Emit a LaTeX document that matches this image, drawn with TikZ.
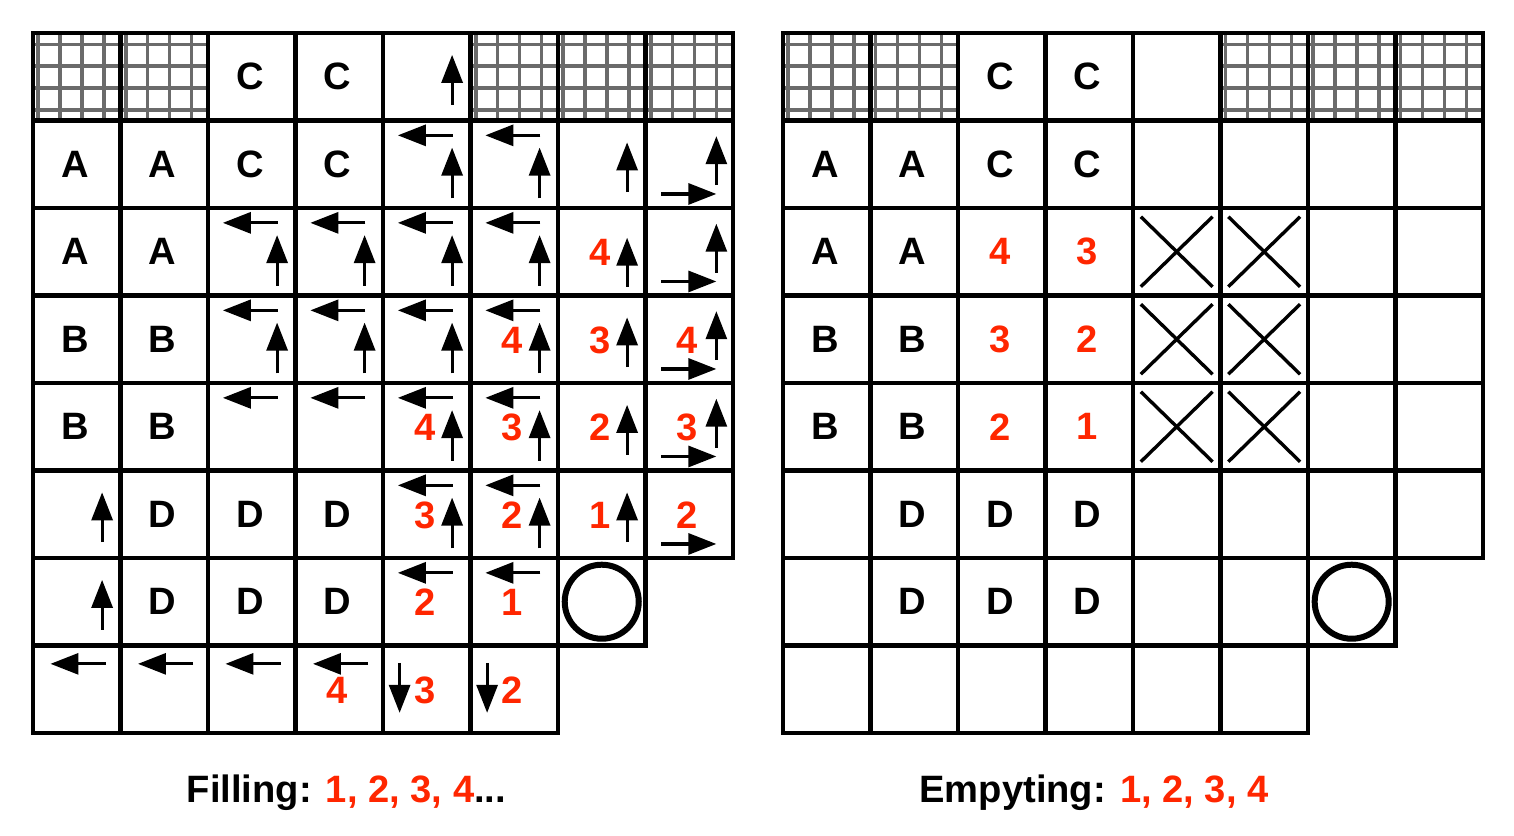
\documentclass[tikz,border=0pt]{standalone}
\usepackage{fontspec}
\setmainfont{Liberation Sans}
\usetikzlibrary{arrows.meta}
\definecolor{numred}{RGB}{255,38,0}
\tikzset{
  >={Triangle[length=0.32cm,width=0.24cm]},
  cellbox/.style={draw=black, line width=1.4pt},
  hatch/.style={draw=black!58, line width=1.15pt},
  flow/.style={->, line width=1pt},
  celltxt/.style={
    font=\fontsize{12.4}{15}\selectfont\bfseries,
    inner sep=0pt},
  cellnum/.style={celltxt, text=numred},
  cross/.style={draw, line width=1.1pt},
  drain/.style={draw, line width=1.95pt},
  caption/.style={celltxt, anchor=base},
}

\begin{document}
\begin{tikzpicture}
  \useasboundingbox (-0.377,-1.177) rectangle (16.926,8.377);

  % both grids: filling (L) and emptying (R)
  \foreach \g/\dx in {L/0,R/8.571} {
    \begin{scope}[xshift=\dx cm]
      % hatched cells of the top row
      \foreach \c in {0,1,5,6,7}
        \foreach \k in {0.06,0.31,0.56,0.81} {
          \draw[hatch] (\c+\k,7) -- (\c+\k,8);
          \draw[hatch] (\c,7.06+\k) -- (\c+1,7.06+\k);
        }
      % cells
      \foreach \r/\n in {0/7,1/7,2/7,3/7,4/7,5/7,6/6,7/5}
        \foreach \c in {0,...,\n}
          \draw[cellbox] (\c,7-\r) rectangle ++(1,1);
      % letters
      \foreach \c/\r/\t in {2/0/C,3/0/C,0/1/A,1/1/A,2/1/C,3/1/C,0/2/A,1/2/A,
          0/3/B,1/3/B,0/4/B,1/4/B,1/5/D,2/5/D,3/5/D,1/6/D,2/6/D,3/6/D}
        \node[celltxt] (\g-\c-\r) at (\c+0.48,7.5-\r) {\t};
      \draw[drain] (6.5,1.5) circle (0.423);
    \end{scope}
  }

  % filling: flow arrows
  \foreach \c/\r in {4/1,5/1,2/2,3/2,4/2,5/2,2/3,3/3,4/3,5/3,4/4,5/4,4/5,5/5} {
    \draw[flow] (\c+0.8,7.83-\r) -- (\c+0.17,7.83-\r);
    \draw[flow] (\c+0.79,7.11-\r) -- (\c+0.79,7.69-\r);
  }
  \foreach \c/\r in {2/4,3/4,4/6,5/6}
    \draw[flow] (\c+0.8,7.83-\r) -- (\c+0.17,7.83-\r);
  \draw[flow] (6.79,5.1) -- (6.79,5.66);
  \foreach \c/\r in {4/0,6/1,6/3,6/4,6/5,0/5,0/6}
    \draw[flow] (\c+0.79,7.18-\r) -- (\c+0.79,7.75-\r);
  \foreach \r in {1,...,4}
    \draw[flow] (7.81,7.26-\r) -- (7.81,7.82-\r);
  \foreach \r in {1,...,5}
    \draw[flow] (7.18,7.16-\r) -- (7.81,7.16-\r);
  \foreach \c in {0,...,3}
    \draw[flow] (\c+0.83,0.79) -- (\c+0.2,0.79);
  \foreach \c in {4,5}
    \draw[flow] (\c+0.19,0.8) -- (\c+0.19,0.23);

  % filling: order
  \foreach \c/\r/\t in {6/2/4,5/3/4,6/3/3,7/3/4,4/4/4,5/4/3,6/4/2,7/4/3,
      4/5/3,5/5/2,6/5/1,7/5/2,4/6/2,5/6/1,3/7/4,4/7/3,5/7/2}
    \node[cellnum] (f-\c-\r) at (\c+0.48,7.49-\r) {\t};

  % emptying: order and blocked cells
  \begin{scope}[xshift=8.571cm]
    \foreach \c/\r/\t in {2/2/4,3/2/3,2/3/3,3/3/2,2/4/2,3/4/1}
      \node[cellnum] (e-\c-\r) at (\c+0.48,7.5-\r) {\t};
    \foreach \c in {4,5}
      \foreach \r in {2,3,4} {
        \draw[cross] (\c+0.09,7.9-\r) -- (\c+0.91,7.1-\r);
        \draw[cross] (\c+0.09,7.1-\r) -- (\c+0.91,7.9-\r);
      }
  \end{scope}

  \node[caption] (fill) at (3.583,-0.789) {Filling: \textcolor{numred}{1, 2, 3, 4}...};
  \node[caption] (empty) at (12.126,-0.789) {Empyting: \textcolor{numred}{1, 2, 3, 4}};
\end{tikzpicture}
\end{document}
